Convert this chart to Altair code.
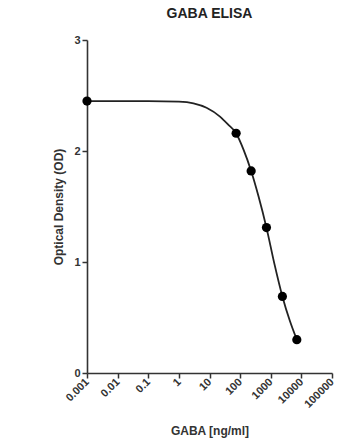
import altair as alt
import pandas as pd

# Measured standards (concentration in ng/ml, OD)
std_conc = [0.001, 74, 229, 724, 2400, 7100]
std_od = [2.45, 2.16, 1.82, 1.31, 0.69, 0.30]

# Fitted curve
curve_conc = [0.001, 0.1, 1, 3, 8, 22, 40, 74, 130, 229, 400, 724, 1300, 2400, 4200, 7100]
curve_od = [2.45, 2.45, 2.445, 2.43, 2.39, 2.31, 2.24, 2.16, 2.01, 1.82, 1.59, 1.31, 0.99, 0.69, 0.47, 0.30]

x_ticks = [0.001, 0.01, 0.1, 1, 10, 100, 1000, 10000, 100000]
x_tick_labels = ["0.001", "0.01", "0.1", "1", "10", "100", "1000", "10000", "100000"]
y_ticks = [0, 1, 2, 3]

pts = pd.DataFrame({"conc": std_conc, "od": std_od})
crv = pd.DataFrame({"conc": curve_conc, "od": curve_od})

label_expr = " : ".join(
    f"datum.value < {v * 1.5} ? '{lab}'" for v, lab in zip(x_ticks[:-1], x_tick_labels[:-1])
) + f" : '{x_tick_labels[-1]}'"

FONT = "Liberation Sans"
AX = "#333333"

x_enc = alt.X(
    "conc:Q",
    scale=alt.Scale(type="log", domain=[0.001, 100000], nice=False),
    axis=alt.Axis(
        values=x_ticks,
        labelExpr=label_expr,
        labelAngle=-45,
        labelAlign="right",
        labelBaseline="middle",
        labelOverlap=False,
        labelBound=False,
        labelFlush=False,
        title="GABA [ng/ml]",
        titlePadding=16,
    ),
)
y_enc = alt.Y(
    "od:Q",
    scale=alt.Scale(domain=[0, 3], nice=False),
    axis=alt.Axis(values=y_ticks, format="d", title="Optical Density (OD)", titlePadding=8),
)

line = alt.Chart(crv).mark_line(color="#222222", strokeWidth=1.8, interpolate="monotone").encode(
    x=x_enc, y=y_enc
)
points = alt.Chart(pts).mark_point(filled=True, color="#000000", size=85, opacity=1).encode(
    x="conc:Q", y="od:Q"
)

chart = (
    alt.layer(line, points)
    .properties(
        width=245,
        height=333,
        autosize=alt.AutoSizeParams(type="none"),
        padding={"left": 87, "top": 40, "right": 25, "bottom": 74},
        background="white",
        title=alt.TitleParams("GABA ELISA", fontSize=14, font=FONT, fontWeight="bold", color="#222222", offset=13, anchor="middle"),
    )
    .configure_view(stroke=None)
    .configure_axis(
        grid=False,
        domainColor=AX,
        domainWidth=1.6,
        tickColor=AX,
        tickWidth=1.5,
        tickSize=5,
        labelFont=FONT,
        labelFontSize=11,
        labelFontWeight="bold",
        labelColor="#333333",
        labelPadding=2,
        titleFont=FONT,
        titleFontSize=12,
        titleFontWeight="bold",
        titleColor="#333333",
    )
)

chart.save("out.html", embed_options={"renderer": "svg", "actions": False})
